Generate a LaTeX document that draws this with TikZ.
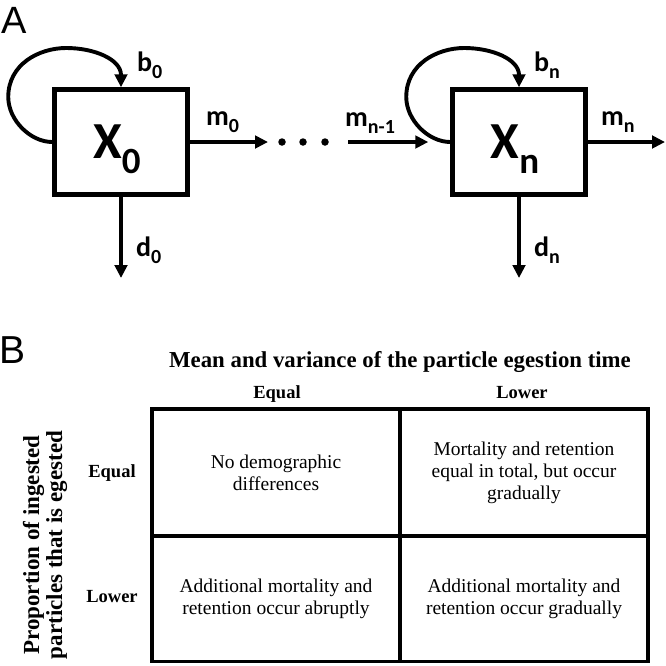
\documentclass[tikz,border=0pt]{standalone}
\usepackage{fontspec}
\setmainfont{Liberation Serif}
\newfontfamily\calib{Carlito}
\newfontfamily\arialf{Liberation Sans}
\usetikzlibrary{arrows.meta,calc}
\newcommand\subtxt[3]{\raisebox{#1}{\fontsize{#2}{#2}\selectfont #3}}
\newcommand\lblsub[2]{#1\subtxt{-7pt}{20}{#2}}
\newcommand\selfloop[1]{%
  \draw[flow] (#1.west)
    .. controls ([shift={(-22,0)}]#1.west) and ([shift={(-44,-22)}]#1.west) .. ([shift={(-44,-45)}]#1.west)
    .. controls ([shift={(-44,-78)}]#1.west) and ([shift={(-13,-94)}]#1.west) .. ([shift={(14,-94)}]#1.west)
    .. controls ([shift={(42,-94)}]#1.west) and ([shift={(0,-28)}]#1.north) .. (#1.north);}
\begin{document}
\begin{tikzpicture}[x=1pt,y=-1pt,
  flow/.style={line width=3.9pt,-{Triangle[length=13pt,width=12.5pt]}},
  boxnode/.style={draw,line width=4.5pt,minimum width=133pt,minimum height=105pt,inner sep=0pt},
  boxlbl/.style={inner sep=0pt,font=\calib\bfseries\fontsize{52}{52}\selectfont},
  lbl/.style={inner sep=0pt,anchor=base west,font=\calib\bfseries\fontsize{28}{28}\selectfont},
  dotnode/.style={circle,fill=black,minimum size=7.5pt,inner sep=0pt},
  panel/.style={inner sep=0pt,anchor=base west,font=\arialf},
  cell/.style={draw,line width=3.8pt,minimum width=248pt,inner sep=0pt,align=center,font=\fontsize{19.5}{22}\selectfont},
  head/.style={inner sep=0pt,anchor=base,font=\bfseries\fontsize{18.5}{18.5}\selectfont}
]
\useasboundingbox (0,0) rectangle (666,665);
% ---------- panel A ----------
\node[panel,font=\arialf\fontsize{38}{38}\selectfont] (labA) at (1,33) {A};
\node[boxnode] (X0) at (121,142) {};
\node[boxnode] (Xn) at (519,142) {};
\node[boxlbl] (X0lbl) at ([shift={(-4,7)}]X0.center) {X\subtxt{-15pt}{37}{0}};
\node[boxlbl] (Xnlbl) at ([shift={(-4,7)}]Xn.center) {X\subtxt{-15pt}{37}{n}};
\node[dotnode] (dot1) at (282,142) {};
\node[dotnode] (dot2) at (303,142) {};
\node[dotnode] (dot3) at (325,142) {};
\coordinate (d0end) at (121,278);
\coordinate (dnend) at (519,278);
\coordinate (mnend) at (665,142);
\selfloop{X0}
\selfloop{Xn}
\draw[flow,shorten >=14pt] (X0.east) -- (dot1.center);
\draw[flow,shorten <=23pt,shorten >=22pt] (dot3.center) -- (Xn.west);
\draw[flow] (Xn.east) -- (mnend);
\draw[flow] (X0.south) -- (d0end);
\draw[flow] (Xn.south) -- (dnend);
\node[lbl] (b0) at (137,71) {\lblsub{b}{0}};
\node[lbl] (bn) at (534,71) {\lblsub{b}{n}};
\node[lbl] (m0) at (206,125) {\lblsub{m}{0}};
\node[lbl] (mn1) at (345,126) {\lblsub{m}{n-1}};
\node[lbl] (mn) at (601,125) {\lblsub{m}{n}};
\node[lbl] (d0) at (136,256) {\lblsub{d}{0}};
\node[lbl] (dn) at (534,256) {\lblsub{d}{n}};
% ---------- panel B ----------
\node[panel,font=\arialf\fontsize{39}{39}\selectfont] (labB) at (-1,363) {B};
\node[inner sep=0pt,anchor=base,font=\bfseries\fontsize{22.8}{22.8}\selectfont] (title) at (400,367) {Mean and variance of the particle egestion time};
\node[head] (colEq) at (277,398) {Equal};
\node[head] (colLo) at (522,398) {Lower};
\node[head] (rowEq) at (112,477) {Equal};
\node[head] (rowLo) at (112,602) {Lower};
\node[inner sep=0pt,rotate=90,align=center,font=\bfseries\fontsize{23}{23}\selectfont] (ylab) at (45,545) {Proportion of ingested\\particles that is egested};
\node[cell,minimum height=127pt] (c11) at (276,472.5) {No demographic\\differences};
\node[cell,minimum height=127pt] (c12) at (524,472.5) {Mortality and retention\\equal in total, but occur\\gradually};
\node[cell,minimum height=125.5pt] (c21) at (276,598.75) {Additional mortality and\\retention occur abruptly};
\node[cell,minimum height=125.5pt] (c22) at (524,598.75) {Additional mortality and\\retention occur gradually};
\end{tikzpicture}
\end{document}
